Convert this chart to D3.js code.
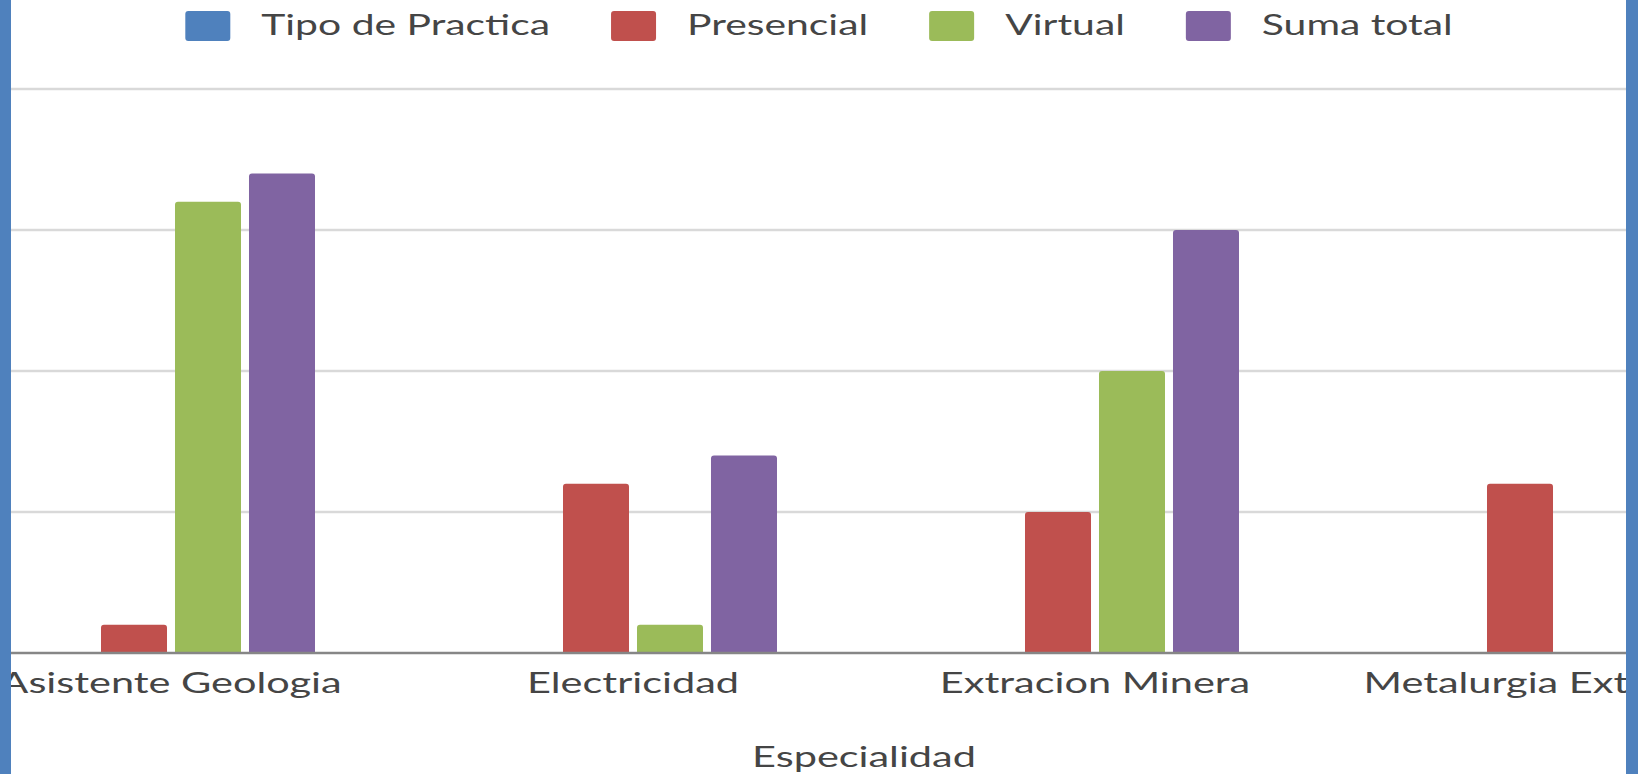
<!DOCTYPE html>
<html>
<head>
<meta charset="utf-8">
<script src="https://cdn.jsdelivr.net/npm/d3@7/dist/d3.min.js"></script>
<style>
  html, body { margin: 0; padding: 0; background: #fff; overflow: hidden; }
  svg { display: block; }
  text { font-family: Lato, "Open Sans", sans-serif; fill: #454545; }
</style>
</head>
<body>
<svg id="chart" width="1638" height="774"></svg>
<script>
// ---- data ----
const categories = ["Asistente Geologia", "Electricidad", "Extracion Minera", "Metalurgia Extractiva"];
const seriesNames = ["Tipo de Practica", "Presencial", "Virtual", "Suma total"];
const tipoPractica = [0, 0, 0, 0];
const presencial = [1, 6, 5, 6];
const virtual = [16, 1, 10, 0];
const sumaTotal = [17, 7, 15, 6];
const yTicks = [0, 5, 10, 15, 20];
const axisTitle = "Especialidad";

const seriesValues = [tipoPractica, presencial, virtual, sumaTotal];
const colors = ["#4f81bd", "#c0504d", "#9bbb59", "#8064a2"];

const W = 1638, H = 774;
const SX = 1.43;   // horizontal text stretch (axis labels)
const SXL = 1.46;  // horizontal text stretch (legend)
const svg = d3.select("#chart");

// plot area extends past the visible frame (the picture is cropped)
const plot = { left: -60, right: 1788, top: 89, bottom: 653 };

const x0 = d3.scaleBand().domain(categories).range([plot.left, plot.right]).padding(0);
const x1 = d3.scaleBand().domain(seriesNames).range([0, x0.bandwidth()])
  .paddingInner(0.108).paddingOuter(1.1757);
const y = d3.scaleLinear().domain([0, 20]).range([plot.bottom, plot.top]);

// gridlines
svg.append("g").selectAll("line").data(yTicks.filter(t => t > 0)).join("line")
  .attr("x1", 0).attr("x2", W)
  .attr("y1", d => y(d)).attr("y2", d => y(d))
  .attr("stroke", "#d9d9d9").attr("stroke-width", 2.5);

// bars
const rows = [];
categories.forEach((c, i) => {
  seriesNames.forEach((s, j) => rows.push({ c, s, j, v: seriesValues[j][i] }));
});
function barPath(xl, w, yt, yb, r) {
  r = Math.min(r, (yb - yt), w / 2);
  return `M${xl},${yb}V${yt + r}Q${xl},${yt} ${xl + r},${yt}H${xl + w - r}Q${xl + w},${yt} ${xl + w},${yt + r}V${yb}Z`;
}
svg.append("g").selectAll("path").data(rows.filter(d => d.v > 0)).join("path")
  .attr("d", d => barPath(x0(d.c) + x1(d.s), x1.bandwidth(), y(d.v), y(0), 3))
  .attr("fill", d => colors[d.j]);

// axis line
svg.append("line").attr("x1", 0).attr("x2", W).attr("y1", y(0)).attr("y2", y(0))
  .attr("stroke", "#868686").attr("stroke-width", 2.5);

// category labels
svg.append("g").selectAll("text").data(categories).join("text")
  .attr("transform", d => `translate(${x0(d) + x0.bandwidth() / 2},693) scale(${SX},1)`)
  .attr("text-anchor", "middle").attr("font-size", 29).text(d => d);

// axis title
svg.append("text")
  .attr("transform", `translate(${(plot.left + plot.right) / 2},767) scale(${SX},1)`)
  .attr("text-anchor", "middle").attr("font-size", 29).text(axisTitle);

// legend
const lg = svg.append("g");
let cx = 0;
seriesNames.forEach((s, j) => {
  const g = lg.append("g");
  g.append("rect").attr("x", cx).attr("y", 11).attr("width", 45).attr("height", 30)
    .attr("rx", 3).attr("fill", colors[j]);
  const t = g.append("text").attr("font-size", 28).text(s)
    .attr("transform", `translate(${cx + 45 + 31},35) scale(${SXL},1)`);
  const tw = t.node().getComputedTextLength() * SXL;
  cx += 45 + 31 + tw + 61;
});
const totalW = cx - 61;
lg.attr("transform", `translate(${(W - totalW) / 2},0)`);

// frame borders
svg.append("rect").attr("x", 0).attr("y", 0).attr("width", 11).attr("height", H).attr("fill", "#4f81bd");
svg.append("rect").attr("x", 1626).attr("y", 0).attr("width", 12).attr("height", H).attr("fill", "#4f81bd");
</script>
</body>
</html>
